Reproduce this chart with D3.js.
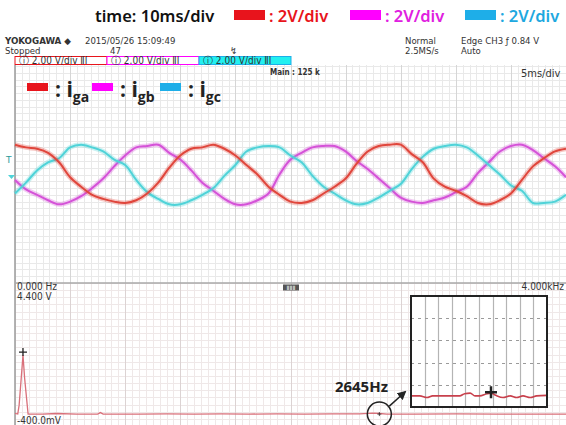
<!DOCTYPE html>
<html>
<head>
<meta charset="utf-8">
<script src="https://cdn.jsdelivr.net/npm/d3@7"></script>
<style>
  html, body { margin: 0; padding: 0; background: #fff; }
  svg { display: block; }
  .scope { font-family: 'Liberation Sans Narrow', 'DejaVu Sans Condensed', sans-serif; font-size: 10px; fill: #333; }
</style>
</head>
<body>
<div id="chart"></div>
<script>
// time axis, one sample per ms (5ms/div, 10 div)
const timeMs = d3.range(0, 51);
// channel voltages (2V/div)
const iga = [2.2, 2.0, 1.9, 1.6, 0.9, -0.2, -0.9, -1.5, -1.8, -2.0, -2.1, -1.9, -1.4, -0.6, 0.5, 1.4, 1.9, 2.0, 2.2, 1.9, 1.4, 0.7, 0.0, -0.9, -1.5, -2.0, -2.1, -1.9, -1.4, -0.9, -0.3, 0.8, 1.7, 2.1, 2.2, 2.2, 1.5, 0.9, -0.3, -0.9, -1.2, -1.6, -2.1, -2.2, -1.9, -1.4, -0.4, 0.6, 1.2, 1.7, 1.9];
const igb = [-0.4, -1.1, -1.5, -1.9, -2.2, -2.0, -1.6, -1.0, -0.3, 0.6, 1.4, 2.0, 2.1, 2.2, 1.6, 1.1, 0.3, -0.6, -1.2, -1.8, -2.2, -2.2, -1.9, -1.4, 0.0, 1.1, 1.6, 2.0, 2.1, 2.1, 1.7, 1.0, 0.4, -0.3, -1.0, -1.7, -2.0, -2.1, -1.9, -1.7, -1.3, -0.9, 0.1, 0.9, 1.7, 2.1, 2.2, 1.8, 1.2, 0.6, -0.2];
const igc = [-1.4, -0.6, 0.3, 0.9, 1.2, 2.0, 2.2, 2.0, 1.7, 1.1, 0.7, -0.4, -1.3, -1.8, -2.2, -2.2, -1.9, -1.5, -1.0, -0.1, 0.7, 1.7, 2.0, 2.1, 2.0, 1.4, 0.9, -0.1, -0.9, -1.4, -1.9, -2.2, -2.1, -1.7, -1.2, -0.7, 0.4, 1.3, 1.9, 2.1, 2.2, 2.0, 1.4, 0.7, 0.0, -0.8, -1.2, -2.1, -2.1, -2.0, -1.5];
const seriesNames = ['ga', 'gb', 'gc'];

// FFT of the current (Hz, V)
const fftFreq = [0, 20, 30, 45, 58, 70, 95, 200, 300, 450, 600, 620, 640, 900, 1100, 1300, 1500, 1700, 1900, 2100, 2300, 2500, 2600, 2645, 2700, 2900, 3200, 3500, 3800, 4000];
const fftAmp = [0.02, 0.0, 0.3, 1.2, 1.98, 1.2, 0.0, 0.0, 0.02, 0.0, 0.0, 0.05, 0.0, 0.0, 0.01, 0.0, 0.01, 0.0, 0.01, 0.0, 0.01, 0.01, 0.03, 0.02, 0.0, 0.0, 0.01, 0.0, 0.0, 0.0];

// zoomed view round 2645Hz
const zoomFreq = [2545, 2556, 2565, 2572, 2606, 2612, 2619, 2625, 2631, 2640, 2645, 2651, 2660, 2669, 2677, 2685, 2694, 2702, 2715];
const zoomAmp = [0, 0, -0.0015, 0, 0, 0.002, 0.0025, 0, 0, 0.002, 0.0025, 0.0005, -0.0015, 0, -0.0015, 0, -0.0015, 0, 0.0005];
const zoomGridFreq = [2562, 2579, 2596, 2613, 2630, 2647, 2664, 2681, 2698];
const zoomGridAmp = [0.01, 0.03, 0.05, 0.07];

const headerLabels = ['time: 10ms/div', ': 2V/div', ': 2V/div', ': 2V/div'];
const fftLabels = ['0.000 Hz', '4.400 V', '-400.0mV', '4.000kHz'];

const WIDTH = 566;
const HEIGHT = 425;
const LEFT = 15;
const RIGHT = 566;
const TOP = 65;
const MID = 283;

const traceColors = ['#e0463c', '#d552d8', '#4fd3d8'];
const keyColors = ['#e8141c', '#ff00ff', '#1eaee8'];
const textColors = ['#e8141c', '#e020e0', '#1ea8e0'];

const svg = d3.select('#chart').append('svg').attr('width', WIDTH).attr('height', HEIGHT);

const x = d3.scaleLinear().domain([0, 50]).range([LEFT, RIGHT]);
const y = d3.scaleLinear().domain([-8, 8]).range([MID, TOP + 1]);
const fx = d3.scaleLinear().domain([0, 4000]).range([LEFT, RIGHT]);
const fy = d3.scaleLinear().domain([-0.4, 4.4]).range([426, MID]);
const ix = d3.scaleLinear().domain([2545, 2715]).range([411, 547]);
const iy = d3.scaleLinear().domain([-0.01, 0.09]).range([407, 296]);

// grid lines, drawn with axes
function grid(g, axis, values, size, color) {
  g.call(axis.tickValues(values).tickSizeInner(size).tickSizeOuter(0).tickFormat(''));
  g.select('.domain').remove();
  g.selectAll('.tick line').attr('stroke', color).attr('stroke-width', 1).attr('shape-rendering', 'crispEdges');
}

// upper panel
svg.append('g').attr('transform', `translate(0,${MID})`)
  .call(grid, d3.axisBottom(x), d3.range(0, 50.01, 0.625), -(MID - TOP), '#e9e9e9');
svg.append('g').attr('transform', `translate(${LEFT},0)`)
  .call(grid, d3.axisLeft(y), d3.range(-8, 8.01, 0.5), -(RIGHT - LEFT), '#e9e9e9');
svg.append('g').attr('transform', `translate(0,${MID})`)
  .call(grid, d3.axisBottom(x), d3.range(5, 50, 5), -(MID - TOP), '#d6d6d6');

// lower panel
svg.append('g').attr('transform', `translate(0,${HEIGHT})`)
  .call(grid, d3.axisBottom(fx), d3.range(0, 4000.1, 50), -(HEIGHT - MID), '#efe8e8');
svg.append('g').attr('transform', `translate(${LEFT},0)`)
  .call(grid, d3.axisLeft(fy), d3.range(-0.4, 4.4, 0.24), -(RIGHT - LEFT), '#efe8e8');
svg.append('g').attr('transform', `translate(0,${HEIGHT})`)
  .call(grid, d3.axisBottom(fx), d3.range(400, 4000, 400), -(HEIGHT - MID), '#dcd3d3');

// frame
svg.append('line').attr('x1', LEFT).attr('x2', LEFT).attr('y1', TOP).attr('y2', HEIGHT)
  .attr('stroke', '#9a9a9a').attr('stroke-width', 1.5);
svg.append('line').attr('x1', LEFT).attr('x2', RIGHT).attr('y1', MID).attr('y2', MID)
  .attr('stroke', '#a8a8a8').attr('stroke-width', 1.5);

// header
const head = svg.append('g').attr('font-family', "'Noto Sans', sans-serif").attr('font-size', 16.5).attr('font-weight', 600);
head.append('text').attr('x', 95).attr('y', 22).attr('fill', '#111').text(headerLabels[0]);
[234, 350, 465].forEach((sx, i) => {
  head.append('rect').attr('x', sx).attr('y', 10).attr('width', 31).attr('height', 10).attr('fill', keyColors[i]);
  head.append('text').attr('x', sx + 35).attr('y', 22).attr('fill', textColors[i]).text(headerLabels[i + 1]);
});

// scope status texts
const info = svg.append('g').attr('class', 'scope');
info.append('text').attr('x', 5).attr('y', 43.5).attr('font-size', 9).attr('font-weight', 'bold')
  .attr('textLength', 66).attr('lengthAdjust', 'spacingAndGlyphs').text('YOKOGAWA ◆');
info.append('text').attr('x', 85).attr('y', 43.5).attr('font-size', 9.5).text('2015/05/26 15:09:49');
info.append('text').attr('x', 5).attr('y', 54).attr('font-size', 9.5).text('Stopped');
info.append('text').attr('x', 110).attr('y', 54).attr('font-size', 9.5).text('47');
info.append('text').attr('x', 230).attr('y', 54).attr('font-size', 9.5).text('↯');
info.append('text').attr('x', 405).attr('y', 43.5).attr('font-size', 9.5).text('Normal');
info.append('text').attr('x', 405).attr('y', 54).attr('font-size', 9.5).text('2.5MS/s');
info.append('text').attr('x', 461).attr('y', 43.5).attr('font-size', 9.5).text('Edge CH3 ƒ 0.84 V');
info.append('text').attr('x', 461).attr('y', 54).attr('font-size', 9.5).text('Auto');
info.append('text').attr('x', 270).attr('y', 75).attr('font-size', 8).attr('font-weight', 'bold').text('Main : 125 k');
info.append('text').attr('x', 521).attr('y', 77).attr('font-size', 11).text('5ms/div');

// channel boxes
const boxW = 92;
traceColors.forEach((c, i) => {
  const bx = LEFT + i * boxW;
  svg.append('rect').attr('x', bx).attr('y', 56.5).attr('width', boxW).attr('height', 8)
    .attr('fill', i === 2 ? '#22f0f0' : '#fff').attr('stroke', keyColors[i]).attr('stroke-width', 1);
  svg.append('text').attr('class', 'scope').attr('x', bx + 4).attr('y', 63.5).attr('font-size', 8.5)
    .attr('fill', i === 2 ? '#333' : keyColors[i]).text('ⓘ 2.00 V/div ⅡⅠ');
});

// left markers
svg.append('text').attr('x', 6).attr('y', 163).attr('font-size', 9).attr('font-family', 'DejaVu Sans')
  .attr('fill', '#2a9a9a').text('T');
svg.append('path').attr('d', 'M8,175 L15,175 L11.5,179 Z').attr('fill', '#4fd3d8');

// waveforms
const line = d3.line().x((d, i) => x(timeMs[i])).y((d) => y(d)).curve(d3.curveCatmullRom);
[igb, igc, iga].forEach((s, k) => {
  const ci = [1, 2, 0][k];
  svg.append('path').datum(s).attr('fill', 'none').attr('stroke', traceColors[ci])
    .attr('stroke-width', 5).attr('stroke-opacity', 0.3).attr('d', line);
  svg.append('path').datum(s).attr('fill', 'none').attr('stroke', traceColors[ci])
    .attr('stroke-width', 2).attr('d', line);
});

// legend inside the plot
const leg = svg.append('g').attr('font-family', "'Open Sans', 'Noto Sans', sans-serif").attr('font-weight', 'bold').attr('fill', '#222');
[27, 92, 160].forEach((lx, i) => {
  leg.append('rect').attr('x', lx).attr('y', 83).attr('width', 21).attr('height', 8).attr('fill', keyColors[i]);
  const t = leg.append('text').attr('x', lx + 28).attr('y', 97).attr('font-size', 21);
  t.append('tspan').text(': i');
  t.append('tspan').attr('font-size', 14).attr('dy', 5).text(seriesNames[i]);
});

// FFT trace
const fftLine = d3.line().x((d, i) => fx(fftFreq[i])).y((d) => fy(d));
svg.append('path').datum(fftAmp).attr('fill', 'none').attr('stroke', '#d9707a').attr('stroke-width', 1.3).attr('d', fftLine);

const peak = fftAmp.indexOf(d3.max(fftAmp));
const cross = (g, cx, cy, s, w) => {
  g.append('path').attr('d', `M${cx - s},${cy} H${cx + s} M${cx},${cy - s} V${cy + s}`)
    .attr('stroke', '#222').attr('stroke-width', w);
};
cross(svg, fx(fftFreq[peak]), fy(fftAmp[peak]) - 3, 4, 1.3);

const lab = svg.append('g').attr('class', 'scope').attr('font-size', 8.5);
lab.append('text').attr('x', 17).attr('y', 290).text(fftLabels[0]);
lab.append('text').attr('x', 17).attr('y', 299.5).text(fftLabels[1]);
lab.append('text').attr('x', 17).attr('y', 424).text(fftLabels[2]);
lab.append('text').attr('x', 564).attr('y', 290).attr('text-anchor', 'end').text(fftLabels[3]);
svg.append('rect').attr('x', 283).attr('y', 284.5).attr('width', 16).attr('height', 6).attr('fill', '#555');
svg.append('text').attr('x', 291).attr('y', 290).attr('text-anchor', 'middle').attr('font-size', 6)
  .attr('fill', '#fff').attr('font-family', 'DejaVu Sans').text('ⅡⅡⅡ');

// inset
const inset = svg.append('g');
inset.append('rect').attr('x', 411).attr('y', 296).attr('width', 136).attr('height', 111).attr('fill', '#fff');
inset.append('g').selectAll('line').data(zoomGridFreq).join('line')
  .attr('x1', (d) => Math.round(ix(d)) + 0.5).attr('x2', (d) => Math.round(ix(d)) + 0.5)
  .attr('y1', 407).attr('y2', 296)
  .attr('stroke', '#b4b4b4').attr('stroke-width', 1.2);
inset.append('g').selectAll('line').data(zoomGridAmp).join('line')
  .attr('x1', 411).attr('x2', 547)
  .attr('y1', (d) => Math.round(iy(d)) + 0.5).attr('y2', (d) => Math.round(iy(d)) + 0.5)
  .attr('stroke', '#9a9a9a').attr('stroke-width', 1).attr('stroke-dasharray', '3,4');
const zoomLine = d3.line().x((d, i) => ix(zoomFreq[i])).y((d) => iy(d)).curve(d3.curveMonotoneX);
inset.append('path').datum(zoomAmp).attr('fill', 'none').attr('stroke', '#c8404c').attr('stroke-width', 1.6).attr('d', zoomLine);
cross(inset, ix(2645), iy(0.0025) - 1, 6, 2.5);
inset.append('rect').attr('x', 411).attr('y', 296).attr('width', 136).attr('height', 111)
  .attr('fill', 'none').attr('stroke', '#222').attr('stroke-width', 2);

// annotation of the 2645Hz component
const hx = fx(2645);
const hy = fy(0);
svg.append('defs').append('marker').attr('id', 'arrow').attr('viewBox', '0 0 10 10')
  .attr('refX', 8).attr('refY', 5).attr('markerWidth', 6).attr('markerHeight', 6).attr('orient', 'auto')
  .append('path').attr('d', 'M0,0 L10,5 L0,10 Z').attr('fill', '#222');
svg.append('circle').attr('cx', hx).attr('cy', hy).attr('r', 12).attr('fill', 'none').attr('stroke', '#222').attr('stroke-width', 1.5);
cross(svg, hx, hy, 2, 0.8);
svg.append('line').attr('x1', hx + 10).attr('y1', hy - 8).attr('x2', 405).attr('y2', 392)
  .attr('stroke', '#222').attr('stroke-width', 1.5).attr('marker-end', 'url(#arrow)');
svg.append('text').attr('x', 388).attr('y', 392).attr('text-anchor', 'end')
  .attr('font-family', "'Open Sans', 'Noto Sans', sans-serif").attr('font-weight', 'bold').attr('font-size', 15)
  .attr('fill', '#222').text('2645Hz');
</script>
</body>
</html>
